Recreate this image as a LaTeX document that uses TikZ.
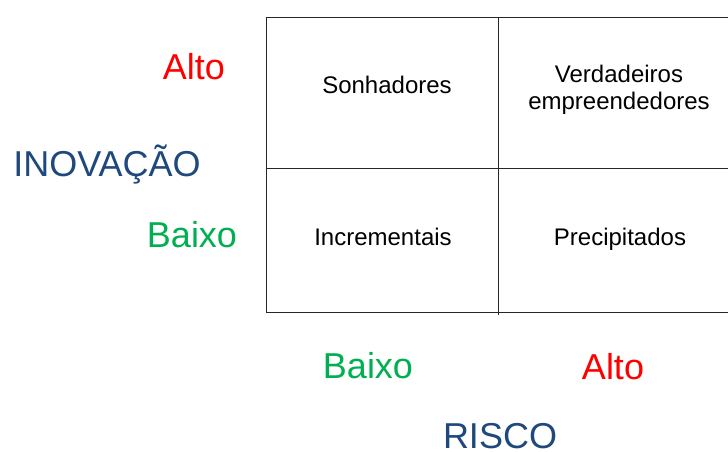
\documentclass[tikz,border=0pt]{standalone}
\usepackage{fontspec}
\setmainfont{Liberation Sans}
\usepackage{xcolor}
\usepackage{tikz}
\usetikzlibrary{positioning}
\definecolor{altored}{RGB}{255,0,0}
\definecolor{baixogreen}{RGB}{0,176,80}
\definecolor{axisblue}{RGB}{31,73,125}
\tikzset{
grid line/.style = { draw = black!85, line width = 0.9pt },
cell text/.style = { black, align = center, anchor = base, inner sep = 0pt, font = \fontsize{24}{28}\selectfont },
level text/.style = { anchor = base, inner sep = 0pt, font = \fontsize{36}{43}\selectfont },
axis text/.style = { axisblue, anchor = base, inner sep = 0pt, font = \fontsize{36}{43}\selectfont },
alto/.style = { level text, altored },
baixo/.style = { level text, baixogreen },
}

\begin{document}
\begin{tikzpicture}[x = 1pt, y = 1pt]
    \useasboundingbox (0, 0) rectangle (728, -452);
    \clip (0, 0) rectangle (728, -452);
    % matrix lines
    \coordinate (tl) at (266, -17);
    \coordinate (br) at (745, -312);
    \coordinate (mt) at (498, -17);
    \coordinate (mb) at (498, -315);
    \coordinate (ml) at (266, -168);
    \coordinate (mr) at (745, -168);
    \draw[grid line] (tl) rectangle (br);
    \draw[grid line] (mt) -- (mb);
    \draw[grid line] (ml) -- (mr);
    % quadrants
    \node[cell text] (sonhadores) at (387, -93) {Sonhadores};
    \node[cell text] (verdadeiros) at (619, -110) {Verdadeiros\\empreendedores};
    \node[cell text] (incrementais) at (383, -245) {Incrementais};
    \node[cell text] (precipitados) at (620, -245) {Precipitados};
    % inovacao axis
    \node[alto] (inov alto) at (194, -80) {Alto};
    \node[axis text] (inovacao) at (107, -176) {INOVAÇÃO};
    \node[baixo] (inov baixo) at (192, -247) {Baixo};
    % risco axis
    \node[baixo] (risco baixo) at (368, -378) {Baixo};
    \node[alto] (risco alto) at (613, -379) {Alto};
    \node[axis text] (risco) at (500, -448) {RISCO};
\end{tikzpicture}
\end{document}
